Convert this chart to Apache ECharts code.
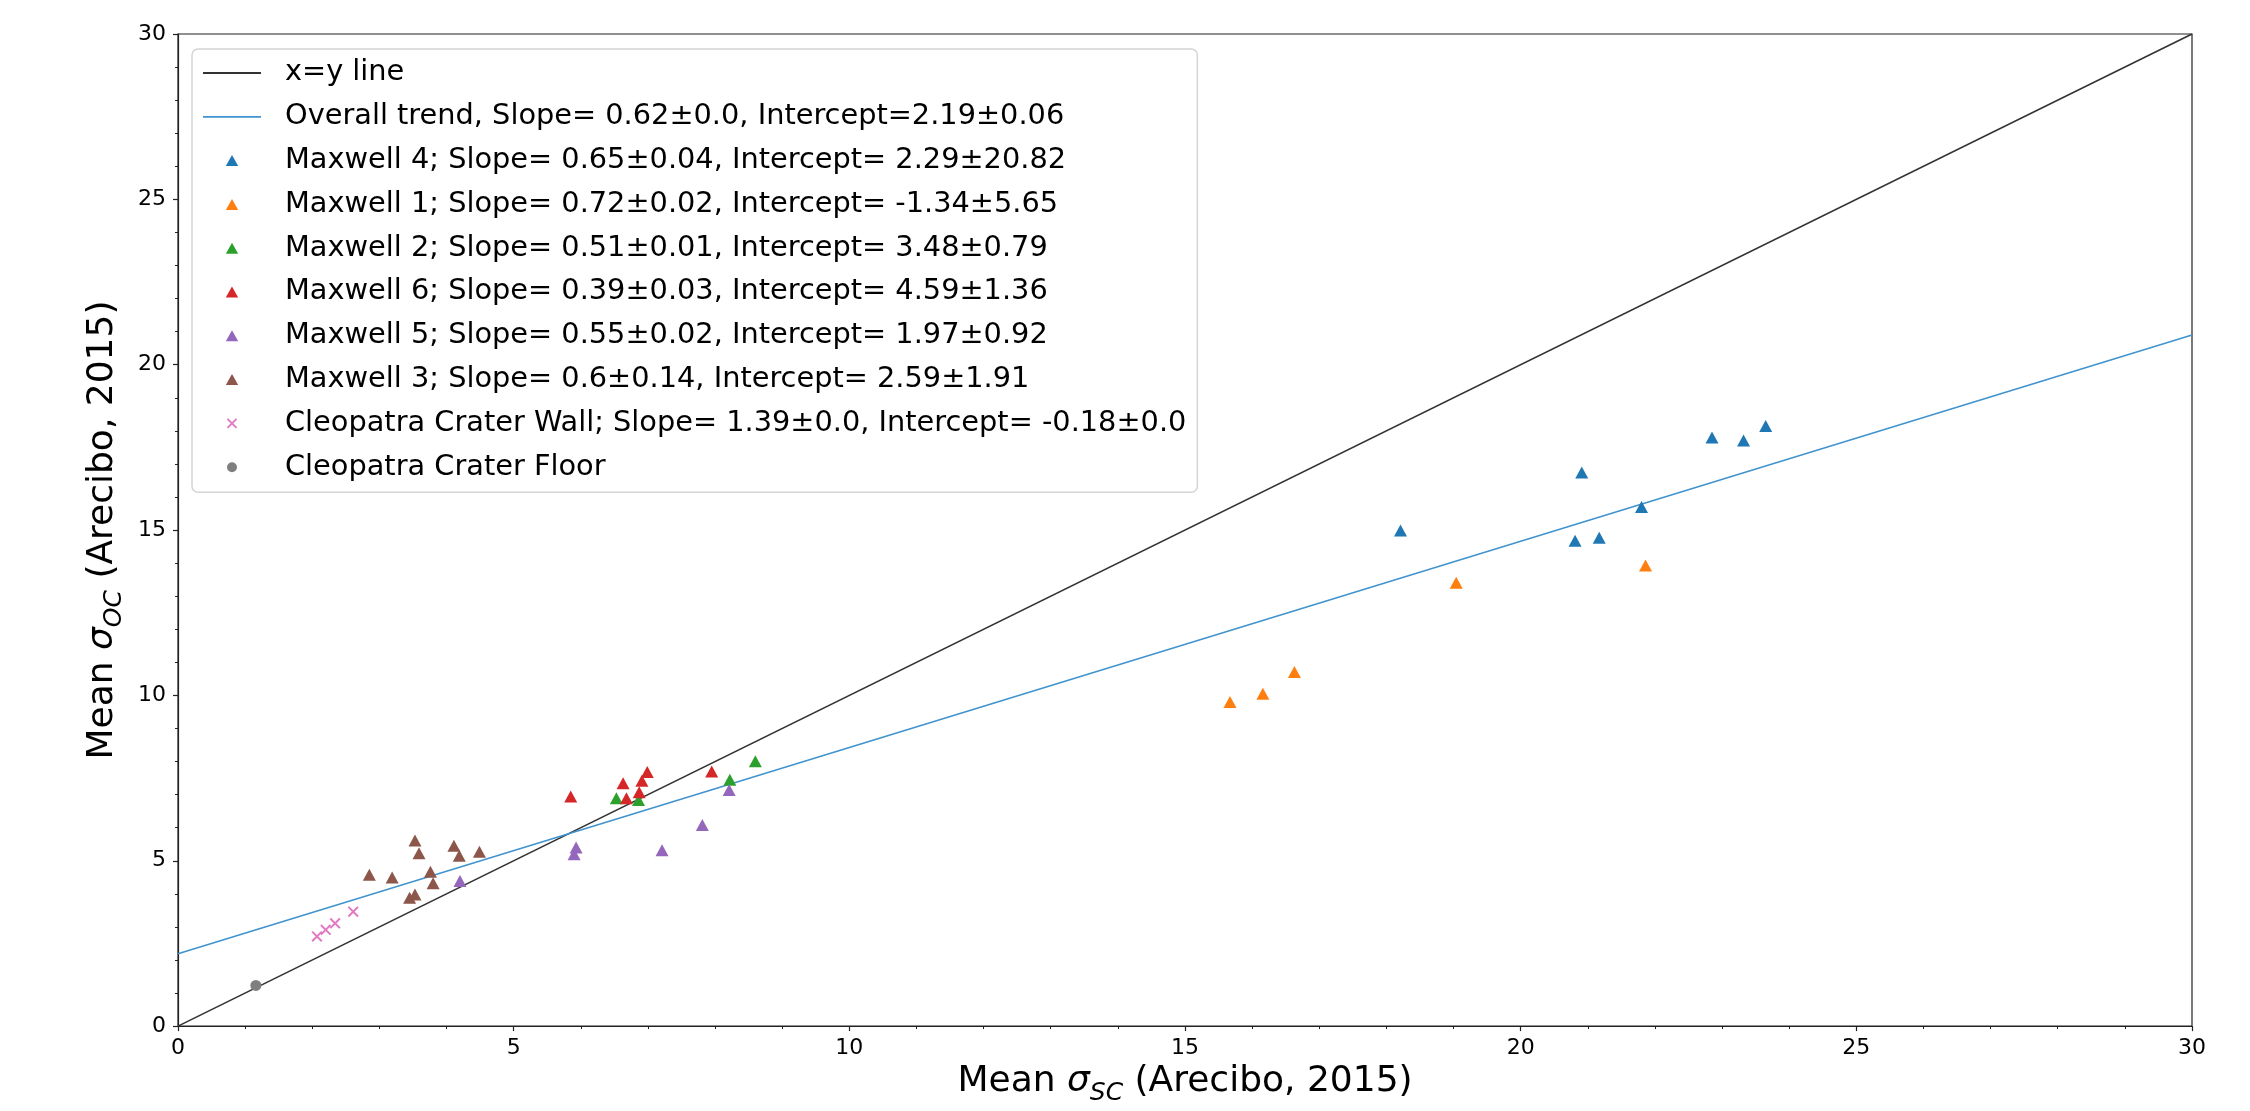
<!DOCTYPE html>
<html>
<head>
<meta charset="utf-8">
<script src="https://cdn.jsdelivr.net/npm/echarts@6/dist/echarts.min.js"></script>
<style>
  html, body { margin: 0; padding: 0; background: #fff; }
  #main { width: 2250px; height: 1111px; }
</style>
</head>
<body>
<div id="main"></div>
<script>
var myChart = echarts.init(document.getElementById("main"));

// reference lines
var xyLineX = [0, 30];
var xyLineY = [0, 30];
var trendX = [0, 30];
var trendY = [2.19, 20.9];

// scatter groups
var maxwell4X = [18.21, 20.81, 20.91, 21.17, 21.8, 22.85, 23.32, 23.65];
var maxwell4Y = [14.99, 14.68, 16.74, 14.77, 15.7, 17.8, 17.71, 18.15];
var maxwell1X = [15.67, 16.16, 16.63, 19.04, 21.86];
var maxwell1Y = [9.8, 10.05, 10.71, 13.41, 13.93];
var maxwell2X = [6.53, 6.86, 8.22, 8.6];
var maxwell2Y = [6.89, 6.84, 7.45, 8.01];
var maxwell6X = [5.85, 6.63, 6.68, 6.87, 6.91, 6.99, 7.95];
var maxwell6Y = [6.94, 7.34, 6.89, 7.07, 7.42, 7.68, 7.7];
var maxwell5X = [4.2, 5.9, 5.93, 7.21, 7.81, 8.21];
var maxwell5Y = [4.39, 5.2, 5.4, 5.32, 6.08, 7.14];
var maxwell3X = [2.85, 3.19, 3.45, 3.53, 3.53, 3.59, 3.76, 3.8, 4.11, 4.19, 4.49];
var maxwell3Y = [4.58, 4.49, 3.88, 3.98, 5.61, 5.23, 4.67, 4.32, 5.45, 5.15, 5.27];
var wallX = [2.07, 2.2, 2.34, 2.61];
var wallY = [2.71, 2.91, 3.11, 3.46];
var floorX = [1.16];
var floorY = [1.23];

var names = [
  "x=y line",
  "Overall trend, Slope= 0.62±0.0, Intercept=2.19±0.06",
  "Maxwell 4; Slope= 0.65±0.04, Intercept= 2.29±20.82",
  "Maxwell 1; Slope= 0.72±0.02, Intercept= -1.34±5.65",
  "Maxwell 2; Slope= 0.51±0.01, Intercept= 3.48±0.79",
  "Maxwell 6; Slope= 0.39±0.03, Intercept= 4.59±1.36",
  "Maxwell 5; Slope= 0.55±0.02, Intercept= 1.97±0.92",
  "Maxwell 3; Slope= 0.6±0.14, Intercept= 2.59±1.91",
  "Cleopatra Crater Wall; Slope= 1.39±0.0, Intercept= -0.18±0.0",
  "Cleopatra Crater Floor"
];

function zip(xs, ys) {
  return xs.map(function (x, i) { return [x, ys[i]]; });
}

var FONT = "DejaVu Sans";
// invisible frame points keep the icon box 77x20 so the mark sits where matplotlib puts it
var frame = "M0,0M77,0M77,20M0,20";
var lineIcon = "path://" + frame + "M0,9.1L58,9.1L58,10.9L0,10.9Z";
var triIcon = "path://" + frame + "M22.8,15.5L29,4.5L35.2,15.5Z";
var xShape = "M25.1,4.8L34.2,13.9L32.9,15.2L23.8,6.1ZM34.2,6.1L25.1,15.2L23.8,13.9L32.9,4.8Z";
var xIcon = "path://" + frame + xShape;
var dotIcon = "path://" + frame + "M29,5A5,5,0,1,1,28.99,5Z";

var colors = ["#333333", "#4193cf", "#1f77b4", "#ff7f0e", "#2ca02c", "#d62728", "#9467bd", "#8c564b", "#e377c2", "#7f7f7f"];
var icons = [lineIcon, lineIcon, triIcon, triIcon, triIcon, triIcon, triIcon, triIcon, xIcon, dotIcon];

var groups = [
  [maxwell4X, maxwell4Y],
  [maxwell1X, maxwell1Y],
  [maxwell2X, maxwell2Y],
  [maxwell6X, maxwell6Y],
  [maxwell5X, maxwell5Y],
  [maxwell3X, maxwell3Y]
];

var series = [
  {
    name: names[0], type: "line", data: zip(xyLineX, xyLineY), symbol: "none",
    lineStyle: { color: colors[0], width: 1.6 }, itemStyle: { color: colors[0] }, z: 2
  },
  {
    name: names[1], type: "line", data: zip(trendX, trendY), symbol: "none",
    lineStyle: { color: colors[1], width: 1.6 }, itemStyle: { color: colors[1] }, z: 2
  }
];
groups.forEach(function (g, i) {
  series.push({
    name: names[i + 2], type: "scatter", data: zip(g[0], g[1]),
    symbol: "triangle", symbolSize: [13, 12],
    itemStyle: { color: colors[i + 2], opacity: 1 }, z: 3
  });
});
series.push({
  name: names[8], type: "scatter", data: zip(wallX, wallY),
  symbol: "path://" + xShape, symbolSize: 11,
  itemStyle: { color: colors[8], opacity: 1 }, z: 3
});
series.push({
  name: names[9], type: "scatter", data: zip(floorX, floorY),
  symbol: "circle", symbolSize: 11,
  itemStyle: { color: colors[9], opacity: 1 }, z: 3
});

var axisName = function (sub) {
  return "{t|Mean }{s|σ}{b|" + sub + "}{t| (Arecibo, 2015)}";
};
var nameRich = {
  t: { fontFamily: FONT, fontSize: 36, color: "#000", lineHeight: 48, verticalAlign: "middle" },
  s: { fontFamily: FONT, fontSize: 36, color: "#000", fontStyle: "italic", lineHeight: 48, verticalAlign: "middle" },
  b: { fontFamily: FONT, fontSize: 25, color: "#000", fontStyle: "italic", lineHeight: 48, verticalAlign: "bottom" }
};

option = {
  backgroundColor: "#fff",
  animation: false,
  grid: {
    left: 178,
    right: 58,
    top: 34,
    bottom: 84,
    show: true,
    borderColor: "#222",
    borderWidth: 1.2,
    backgroundColor: "transparent"
  },
  legend: {
    orient: "vertical",
    left: 192,
    top: 49,
    data: names.map(function (n, i) {
      return { name: n, icon: icons[i], itemStyle: { color: colors[i], borderWidth: 0 } };
    }),
    itemWidth: 77,
    itemHeight: 20,
    itemGap: 13.8,
    selectedMode: false,
    backgroundColor: "rgba(255,255,255,0.8)",
    borderColor: "#d4d4d4",
    borderWidth: 1.5,
    borderRadius: 6,
    padding: [9, 11, 10, 11],
    textStyle: { fontFamily: FONT, fontSize: 28.8, color: "#000", lineHeight: 30 }
  },
  xAxis: {
    type: "value",
    min: 0,
    max: 30,
    interval: 5,
    name: axisName("SC"),
    nameLocation: "middle",
    nameGap: 30,
    nameTextStyle: { rich: nameRich },
    axisLine: { show: true, lineStyle: { color: "#222", width: 1.2 } },
    axisTick: { show: true, length: 5, lineStyle: { color: "#222", width: 1.2 } },
    minorTick: { show: true, splitNumber: 5, length: 3, lineStyle: { color: "#222", width: 1 } },
    axisLabel: { fontFamily: FONT, fontSize: 22, color: "#000", margin: 11 },
    splitLine: { show: false }
  },
  yAxis: {
    type: "value",
    min: 0,
    max: 30,
    interval: 5,
    name: axisName("OC"),
    nameLocation: "middle",
    nameGap: 46,
    nameTextStyle: { rich: nameRich },
    axisLine: { show: true, lineStyle: { color: "#222", width: 1.2 } },
    axisTick: { show: true, length: 5, lineStyle: { color: "#222", width: 1.2 } },
    minorTick: { show: true, splitNumber: 5, length: 3, lineStyle: { color: "#222", width: 1 } },
    axisLabel: { fontFamily: FONT, fontSize: 22, color: "#000", margin: 12 },
    splitLine: { show: false }
  },
  series: series
};
myChart.setOption(option);
</script>
</body>
</html>
